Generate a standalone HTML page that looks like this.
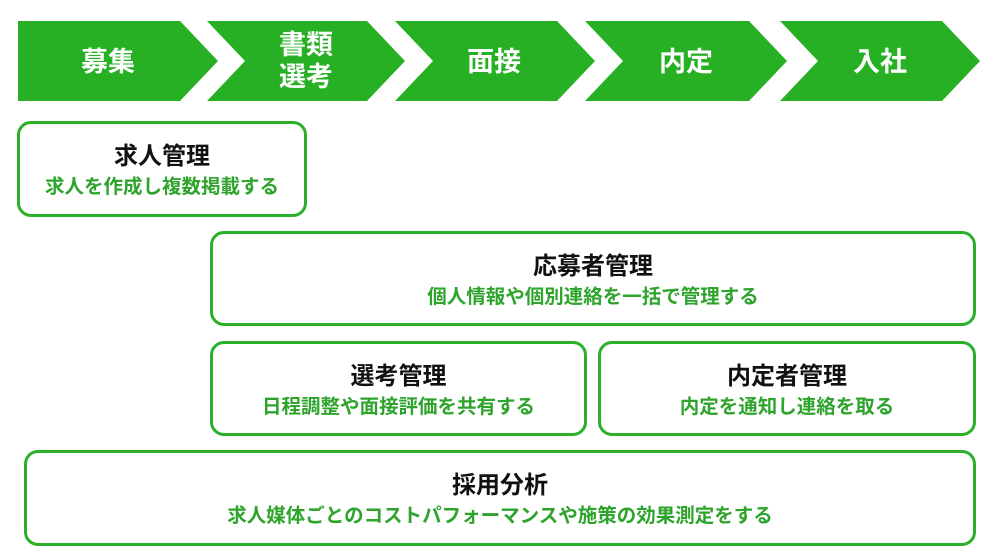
<!DOCTYPE html>
<html><head><meta charset="utf-8"><style>
body{margin:0;width:999px;height:560px;background:#fff;position:relative;overflow:hidden;font-family:"Liberation Sans","Noto Sans CJK JP",sans-serif;}
.b{position:absolute;box-sizing:border-box;border:3px solid #2bb02a;border-radius:14px;text-align:center;}
.t{font-weight:bold;font-size:24px;color:#111;margin-top:17px;line-height:32px;}
.s{font-weight:bold;font-size:19.5px;color:#2ea42c;line-height:28px;margin-top:0px;}
svg{position:absolute;left:0;top:0}
</style></head><body>
<svg width="999" height="110">
<g fill="#27b024">
<polygon points="18,21 180,21 218,61 180,101 18,101"/>
<polygon points="207,21 367,21 405,61 367,101 207,101 245,61"/>
<polygon points="395,21 557,21 595,61 557,101 395,101 433,61"/>
<polygon points="585,21 749,21 787,61 749,101 585,101 623,61"/>
<polygon points="780,21 942,21 980,61 942,101 780,101 818,61"/>
</g>
<g fill="#fff" font-weight="bold" font-size="27" text-anchor="middle" font-family="Liberation Sans, Noto Sans CJK JP, sans-serif">
<text x="108" y="71">募集</text>
<text x="306" y="54">書類</text>
<text x="306" y="86">選考</text>
<text x="494" y="71">面接</text>
<text x="686" y="71">内定</text>
<text x="880" y="71">入社</text>
</g></svg>
<div class="b" style="left:17px;top:121px;width:290px;height:96px"><div class="t">求人管理</div><div class="s">求人を作成し複数掲載する</div></div>
<div class="b" style="left:210px;top:231px;width:766px;height:95px"><div class="t">応募者管理</div><div class="s">個人情報や個別連絡を一括で管理する</div></div>
<div class="b" style="left:210px;top:341px;width:377px;height:95px"><div class="t">選考管理</div><div class="s">日程調整や面接評価を共有する</div></div>
<div class="b" style="left:598px;top:341px;width:378px;height:95px"><div class="t">内定者管理</div><div class="s">内定を通知し連絡を取る</div></div>
<div class="b" style="left:24px;top:450px;width:952px;height:96px"><div class="t">採用分析</div><div class="s">求人媒体ごとのコストパフォーマンスや施策の効果測定をする</div></div>
</body></html>
